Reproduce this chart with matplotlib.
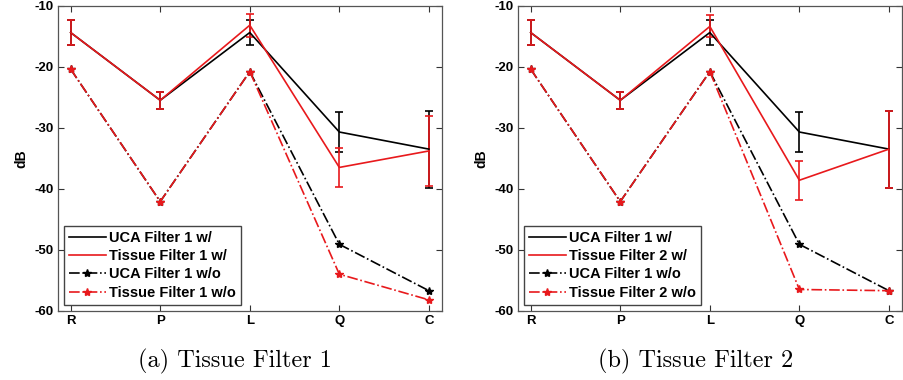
import matplotlib
matplotlib.use("Agg")
import matplotlib.pyplot as plt
import numpy as np

plt.rcParams["axes.unicode_minus"] = False

categories = ["R", "P", "L", "Q", "C"]

# Panel (a)
uca_w_a = [-14.4, -25.5, -14.4, -30.7, -33.5]
uca_w_err_a = [2.0, 1.4, 2.1, 3.3, 6.3]
tis_w_a = [-14.4, -25.5, -13.2, -36.5, -33.8]
tis_w_err_a = [2.0, 1.4, 1.9, 3.2, 5.7]
uca_wo_a = [-20.4, -42.1, -20.8, -49.1, -56.7]
tis_wo_a = [-20.4, -42.1, -20.8, -54.0, -58.2]

# Panel (b)
uca_w_b = [-14.4, -25.5, -14.4, -30.7, -33.5]
uca_w_err_b = [2.0, 1.4, 2.1, 3.3, 6.3]
tis_w_b = [-14.4, -25.5, -13.4, -38.6, -33.5]
tis_w_err_b = [2.0, 1.4, 1.8, 3.2, 6.3]
uca_wo_b = [-20.4, -42.1, -20.8, -49.1, -56.7]
tis_wo_b = [-20.4, -42.1, -20.8, -56.5, -56.7]

labels_a = ["UCA Filter 1 w/", "Tissue Filter 1 w/", "UCA Filter 1 w/o", "Tissue Filter 1 w/o"]
labels_b = ["UCA Filter 1 w/", "Tissue Filter 2 w/", "UCA Filter 1 w/o", "Tissue Filter 2 w/o"]
captions = ["(a) Tissue Filter 1", "(b) Tissue Filter 2"]

RED = "#e8191c"
fig = plt.figure(figsize=(9.04, 3.80), dpi=100)

panels = [
    (0.0638, 235, uca_w_a, uca_w_err_a, tis_w_a, tis_w_err_a, uca_wo_a, tis_wo_a, labels_a, captions[0]),
    (0.5727, 696, uca_w_b, uca_w_err_b, tis_w_b, tis_w_err_b, uca_wo_b, tis_wo_b, labels_b, captions[1]),
]

x = np.arange(1, len(categories) + 1)
for left, capx, uw, uwe, tw, twe, uwo, two, labs, cap in panels:
    ax = fig.add_axes([left, 0.182, 0.425, 0.803])
    h1 = ax.errorbar(x, uw, yerr=uwe, color="black", lw=1.2, capsize=3.2, elinewidth=1.2, capthick=1.2)
    h2 = ax.errorbar(x, tw, yerr=twe, color=RED, lw=1.2, capsize=3.2, elinewidth=1.2, capthick=1.2)
    h3, = ax.plot(x, uwo, color="black", ls="-.", lw=1.2, marker="*", ms=6)
    h4, = ax.plot(x, two, color=RED, ls="-.", lw=1.2, marker="*", ms=6)
    ax.set_xlim(0.855, 5.145)
    ax.set_ylim(-60, -10)
    ax.set_xticks(x)
    ax.set_xticklabels(categories)
    ax.set_yticks([-60, -50, -40, -30, -20, -10])
    ax.tick_params(direction="in", top=True, right=True, length=4, width=0.8,
                   labelsize=9.5, pad=3, color="#333333")
    for lbl in ax.get_xticklabels() + ax.get_yticklabels():
        lbl.set_fontfamily("Liberation Sans")
        lbl.set_fontweight("bold")
    for s in ax.spines.values():
        s.set_color("#555555")
        s.set_linewidth(0.9)
    ax.set_ylabel("dB", fontfamily="Liberation Sans", fontweight="bold", fontsize=10, labelpad=4)
    leg = ax.legend([h1[0], h2[0], h3, h4], labs, loc="lower left",
                    bbox_to_anchor=(0.005, 0.005), borderaxespad=0.3,
                    prop={"family": "Liberation Sans", "weight": "bold", "size": 10.5},
                    fancybox=False, framealpha=1, edgecolor="#444444",
                    handlelength=2.5, handletextpad=0.25, labelspacing=0.3,
                    borderpad=0.35)
    leg.get_frame().set_linewidth(1.0)
    fig.text(capx / 904, 1 - 361 / 380, cap, ha="center", va="center",
             fontfamily="cmr10", fontsize=17.5)

fig.savefig("out.png", dpi=100)
